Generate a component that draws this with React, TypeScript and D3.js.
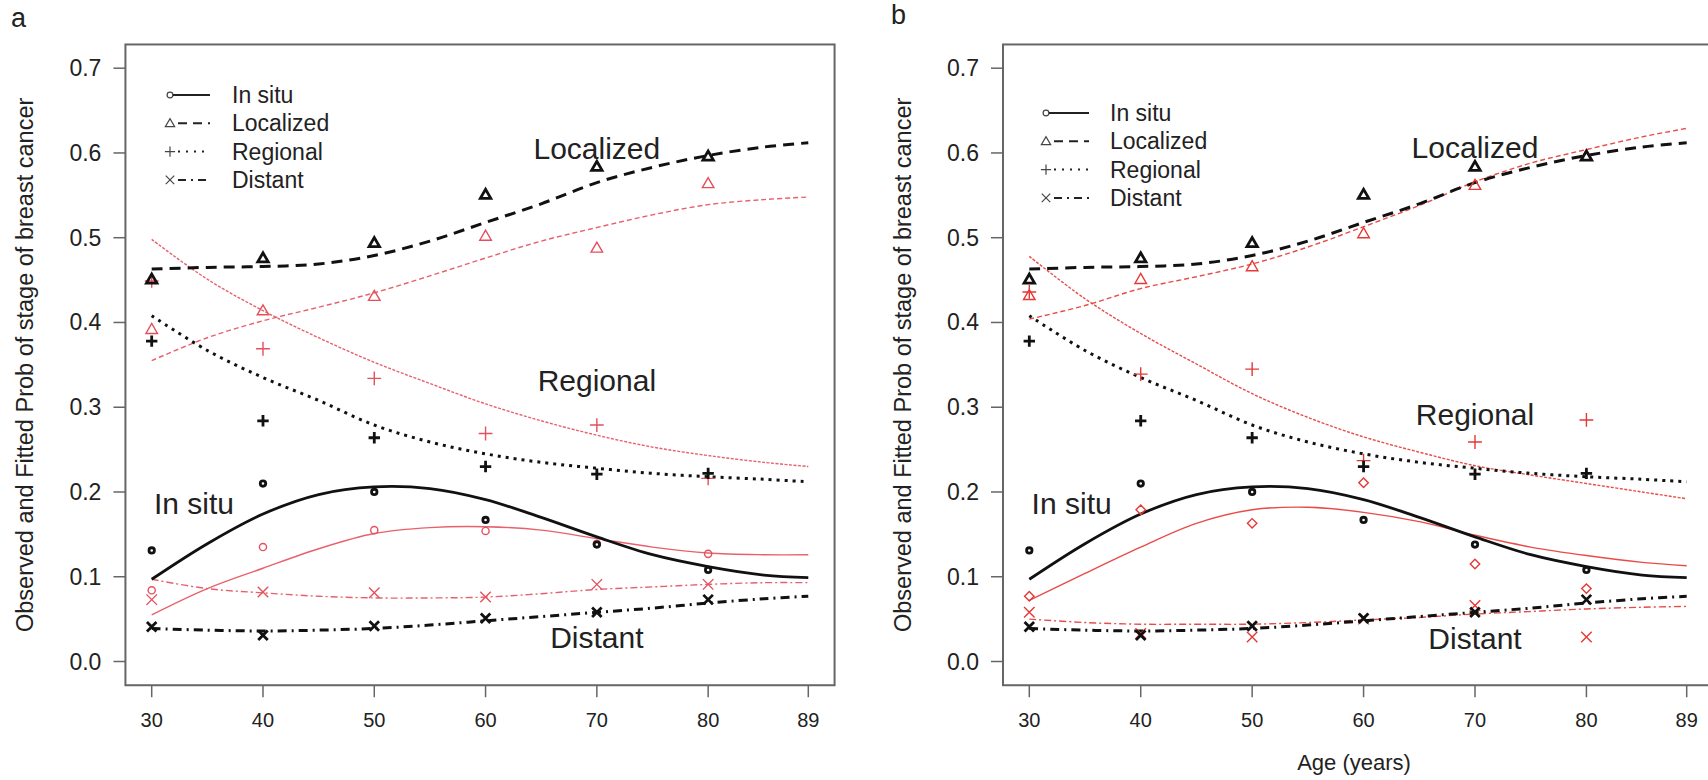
import React from "react";
import * as d3 from "d3";

// ---------- data ----------
const obsAges = [30, 40, 50, 60, 70, 80];
const fitAges = [30, 35, 40, 45, 50, 55, 60, 65, 70, 75, 80, 85, 89];
const xTicks = [30, 40, 50, 60, 70, 80, 89];
const yTicks = [0, 0.1, 0.2, 0.3, 0.4, 0.5, 0.6, 0.7];
const stageNames = ["In situ", "Localized", "Regional", "Distant"];

// black (observed + fitted), identical in both panels
const blackObsInSitu = [0.131, 0.21, 0.2, 0.167, 0.138, 0.108];
const blackObsLocalized = [0.451, 0.476, 0.494, 0.551, 0.584, 0.596];
const blackObsRegional = [0.378, 0.284, 0.264, 0.23, 0.221, 0.222];
const blackObsDistant = [0.041, 0.031, 0.042, 0.051, 0.058, 0.073];

const blackFitInSitu = [0.097, 0.139, 0.174, 0.197, 0.206, 0.204, 0.191, 0.17, 0.147, 0.126, 0.112, 0.102, 0.099];
const blackFitLocalized = [0.463, 0.465, 0.466, 0.469, 0.479, 0.496, 0.518, 0.54, 0.565, 0.583, 0.597, 0.607, 0.612];
const blackFitRegional = [0.408, 0.367, 0.335, 0.308, 0.279, 0.259, 0.245, 0.235, 0.228, 0.222, 0.218, 0.215, 0.212];
const blackFitDistant = [0.039, 0.037, 0.036, 0.037, 0.039, 0.043, 0.048, 0.053, 0.058, 0.063, 0.069, 0.074, 0.077];

// panel a red
const redAObsInSitu = [0.084, 0.135, 0.155, 0.154, 0.139, 0.127];
const redAObsLocalized = [0.392, 0.414, 0.431, 0.502, 0.488, 0.564];
const redAObsRegional = [0.449, 0.369, 0.334, 0.269, 0.279, 0.216];
const redAObsDistant = [0.073, 0.082, 0.081, 0.076, 0.091, 0.091];

const redAFitInSitu = [0.055, 0.086, 0.11, 0.133, 0.151, 0.158, 0.159, 0.155, 0.145, 0.135, 0.128, 0.126, 0.126];
const redAFitLocalized = [0.355, 0.382, 0.402, 0.418, 0.435, 0.455, 0.476, 0.496, 0.512, 0.527, 0.539, 0.545, 0.548];
const redAFitRegional = [0.498, 0.451, 0.414, 0.382, 0.353, 0.328, 0.304, 0.284, 0.267, 0.253, 0.243, 0.235, 0.23];
const redAFitDistant = [0.097, 0.086, 0.081, 0.077, 0.075, 0.075, 0.076, 0.08, 0.085, 0.088, 0.091, 0.093, 0.093];

// panel b red
const redBObsInSitu = [0.077, 0.179, 0.163, 0.211, 0.115, 0.086];
const redBObsLocalized = [0.432, 0.451, 0.466, 0.505, 0.562, 0.597];
const redBObsRegional = [0.436, 0.339, 0.345, 0.237, 0.259, 0.285];
const redBObsDistant = [0.058, 0.033, 0.029, 0.05, 0.066, 0.029];

const redBFitInSitu = [0.072, 0.104, 0.135, 0.163, 0.179, 0.182, 0.176, 0.165, 0.149, 0.135, 0.125, 0.117, 0.113];
const redBFitLocalized = [0.404, 0.42, 0.44, 0.454, 0.469, 0.489, 0.513, 0.538, 0.566, 0.588, 0.604, 0.619, 0.629];
const redBFitRegional = [0.478, 0.428, 0.387, 0.351, 0.316, 0.288, 0.265, 0.247, 0.231, 0.22, 0.21, 0.2, 0.192];
const redBFitDistant = [0.05, 0.046, 0.044, 0.044, 0.044, 0.046, 0.049, 0.052, 0.056, 0.059, 0.062, 0.064, 0.065];

// annotation positions (age, prob)
const annAAges = [33.8, 70, 70, 70];
const annAProbs = [0.187, 0.605, 0.331, 0.028];
const annBAges = [33.8, 70, 70, 70];
const annBProbs = [0.186, 0.607, 0.292, 0.027];

// ---------- styles ----------
const FONT = "'Liberation Sans', Arial, Helvetica, sans-serif";
const TXT = "#222";
const BLACK = "#111";
const AXIS = "#666";

const markerPaths: Record<string, string> = {
  circle: "",
  triangle: "M -5.5 4 L 5.5 4 L 0 -5.5 Z",
  plus: "M -6 0 H 6 M 0 -6 V 6",
  cross: "M -5 -5 L 5 5 M -5 5 L 5 -5",
  diamond: "M 0 -4.5 L 4.5 0 L 0 4.5 L -4.5 0 Z",
};

const blackDash = ["", "11 7", "3 5", "9 5 2 5"];
const redDash = ["", "5 3", "3 1.5", "7 3 2 3"];

function Marker({ type, x, y, color, sw, scale = 1 }: any) {
  if (type === "circle") {
    return <circle cx={x} cy={y} r={3.4 * scale} fill="none" stroke={color} strokeWidth={sw} />;
  }
  return (
    <path
      d={markerPaths[type]}
      transform={`translate(${x},${y}) scale(${scale})`}
      fill="none"
      stroke={color}
      strokeWidth={sw / scale}
    />
  );
}

const yScale = d3.scaleLinear().domain([0, 0.7]).range([661.5, 68.2]);

function Panel({ cfg }: any) {
  const x = d3.scaleLinear().domain([30, 89]).range(cfg.xr);
  const y = yScale;
  const line = d3
    .line<number>()
    .x((_, i) => x(fitAges[i]))
    .y((d) => y(d))
    .curve(d3.curveCatmullRom.alpha(0.5));

  const x0 = x(27.64), x1 = x(91.36), yTop = y(0.728), yBot = y(-0.028);
  const markers = ["circle", "triangle", "plus", "cross"];
  const redMarkers = [cfg.redInSituMarker, "triangle", "plus", "cross"];

  return (
    <g>
      <text x={cfg.letterX} y={cfg.letterY} fontSize={27} fontFamily={FONT} fill={TXT}>
        {cfg.letter}
      </text>
      {/* frame */}
      <rect x={x0} y={yTop} width={x1 - x0} height={yBot - yTop} fill="none" stroke={AXIS} strokeWidth={2} />
      {/* y axis */}
      {yTicks.map((t) => (
        <g key={t}>
          <line x1={x0 - 12} x2={x0} y1={y(t)} y2={y(t)} stroke={AXIS} strokeWidth={1.5} />
          <text
            x={x0 - 24}
            y={y(t)}
            textAnchor="end"
            dominantBaseline="central"
            fontSize={23}
            fontFamily={FONT}
            fill={TXT}
          >
            {d3.format(".1f")(t)}
          </text>
        </g>
      ))}
      {/* x axis */}
      {xTicks.map((t) => (
        <g key={t}>
          <line x1={x(t)} x2={x(t)} y1={yBot} y2={yBot + 12} stroke={AXIS} strokeWidth={1.5} />
          <text x={x(t)} y={720} textAnchor="middle" dominantBaseline="central" fontSize={20} fontFamily={FONT} fill={TXT}>
            {t}
          </text>
        </g>
      ))}
      <text
        transform={`translate(${cfg.titleX},${(yTop + yBot) / 2}) rotate(-90)`}
        textAnchor="middle"
        dominantBaseline="central"
        fontSize={23.5}
        fontFamily={FONT}
        fill={TXT}
      >
        Observed and Fitted Prob of stage of breast cancer
      </text>
      {cfg.xTitle && (
        <text x={(x0 + x1) / 2 - 4} y={762} textAnchor="middle" dominantBaseline="central" fontSize={22} fontFamily={FONT} fill={TXT}>
          {cfg.xTitle}
        </text>
      )}

      {/* red fitted curves */}
      {cfg.redFit.map((arr: number[], i: number) => (
        <path key={"rf" + i} d={line(arr) || ""} fill="none" stroke={cfg.red} strokeWidth={1.4} strokeDasharray={redDash[i]} opacity={0.9} />
      ))}
      {/* black fitted curves */}
      {cfg.blackFit.map((arr: number[], i: number) => (
        <path key={"bf" + i} d={line(arr) || ""} fill="none" stroke={BLACK} strokeWidth={i === 0 ? 2.8 : 3} strokeDasharray={blackDash[i]} />
      ))}
      {/* red observed */}
      {cfg.redObs.map((arr: number[], i: number) =>
        arr.map((v, j) => (
          <Marker key={`ro${i}-${j}`} type={redMarkers[i]} x={x(obsAges[j])} y={y(v)} color={cfg.red} sw={1.4} scale={i === 2 ? 1.15 : 1.05} />
        ))
      )}
      {/* black observed */}
      {cfg.blackObs.map((arr: number[], i: number) =>
        arr.map((v, j) => (
          <Marker key={`bo${i}-${j}`} type={markers[i]} x={x(obsAges[j])} y={y(v)} color={BLACK} sw={2.8} scale={i === 0 ? 0.8 : 0.95} />
        ))
      )}

      {/* annotations */}
      {stageNames.map((s, i) => (
        <text
          key={"ann" + s}
          x={x(cfg.annAges[i])}
          y={y(cfg.annProbs[i])}
          textAnchor="middle"
          dominantBaseline="central"
          fontSize={30}
          fontFamily={FONT}
          fill={TXT}
        >
          {s}
        </text>
      ))}

      {/* legend */}
      {stageNames.map((s, i) => {
        const ly = cfg.legendY + i * 28.3;
        const lx = cfg.legendX;
        return (
          <g key={"leg" + s}>
            <Marker type={markers[i]} x={lx} y={ly} color="#444" sw={1.2} scale={0.85} />
            <line
              x1={lx + (i === 0 ? 3 : 8)}
              x2={cfg.legendLineEnd}
              y1={ly}
              y2={ly}
              stroke="#222"
              strokeWidth={i === 0 ? 2.2 : 2}
              strokeDasharray={i === 0 ? "" : i === 1 ? "9 6" : i === 2 ? "2 6" : "8 5 2 5"}
            />
            <text x={cfg.legendTextX} y={ly} dominantBaseline="central" fontSize={23} fontFamily={FONT} fill={TXT}>
              {s}
            </text>
          </g>
        );
      })}
    </g>
  );
}

const panelA = {
  letter: "a",
  letterX: 11,
  letterY: 27,
  xr: [151.7, 808.3],
  titleX: 25,
  xTitle: "",
  legendX: 170,
  legendY: 95,
  legendLineEnd: 210,
  legendTextX: 232,
  red: "#e4505c",
  redInSituMarker: "circle",
  blackObs: [blackObsInSitu, blackObsLocalized, blackObsRegional, blackObsDistant],
  blackFit: [blackFitInSitu, blackFitLocalized, blackFitRegional, blackFitDistant],
  redObs: [redAObsInSitu, redAObsLocalized, redAObsRegional, redAObsDistant],
  redFit: [redAFitInSitu, redAFitLocalized, redAFitRegional, redAFitDistant],
  annAges: annAAges,
  annProbs: annAProbs,
};

const panelB = {
  letter: "b",
  letterX: 891,
  letterY: 24,
  xr: [1029.3, 1686.7],
  titleX: 903,
  xTitle: "Age (years)",
  legendX: 1046,
  legendY: 113,
  legendLineEnd: 1089,
  legendTextX: 1110,
  red: "#e53935",
  redInSituMarker: "diamond",
  blackObs: [blackObsInSitu, blackObsLocalized, blackObsRegional, blackObsDistant],
  blackFit: [blackFitInSitu, blackFitLocalized, blackFitRegional, blackFitDistant],
  redObs: [redBObsInSitu, redBObsLocalized, redBObsRegional, redBObsDistant],
  redFit: [redBFitInSitu, redBFitLocalized, redBFitRegional, redBFitDistant],
  annAges: annBAges,
  annProbs: annBProbs,
};

export default function App() {
  return (
    <svg
      width={1708}
      height={780}
      viewBox="0 0 1708 780"
      style={{ position: "absolute", left: 0, top: 0, background: "#fff" }}
    >
      <rect x={0} y={0} width={1708} height={780} fill="#fff" />
      <Panel cfg={panelA} />
      <Panel cfg={panelB} />
    </svg>
  );
}
